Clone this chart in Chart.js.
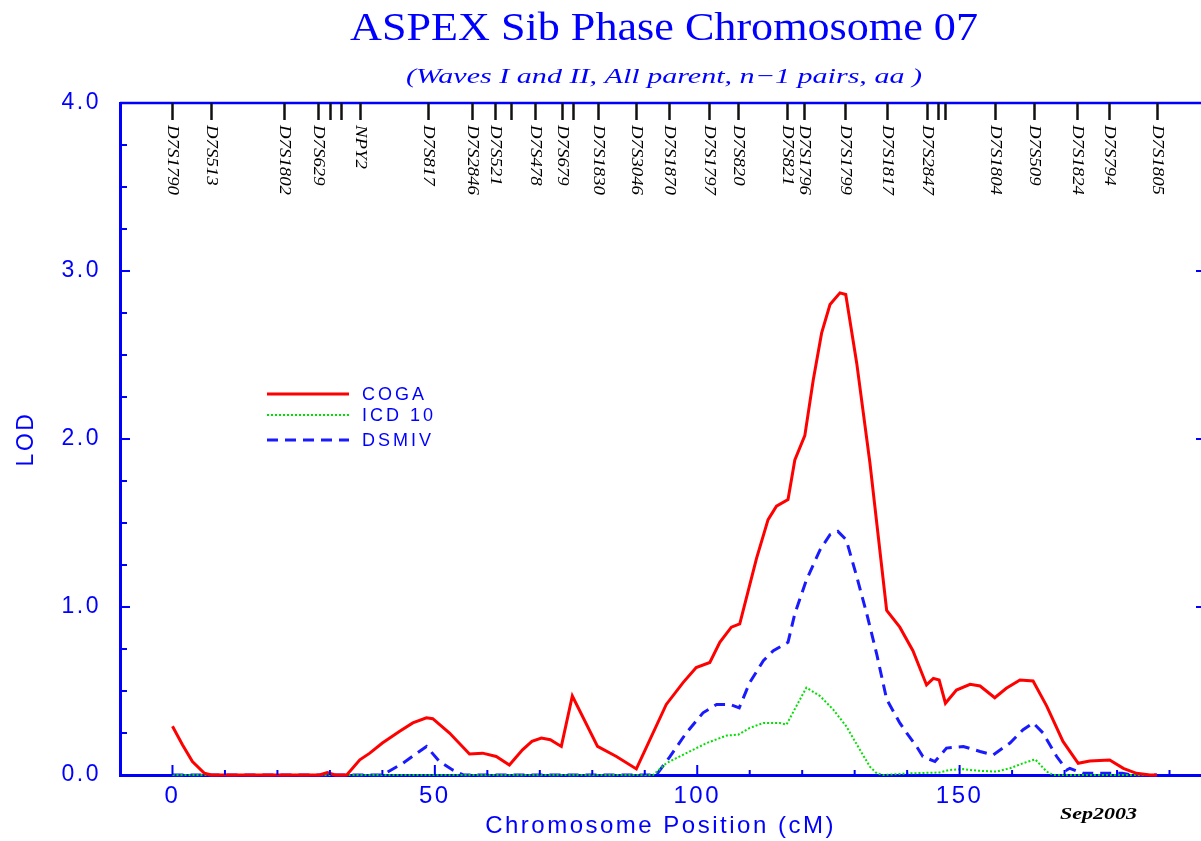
<!DOCTYPE html>
<html>
<head>
<meta charset="utf-8">
<title>ASPEX Sib Phase Chromosome 07</title>
<script src="https://cdn.jsdelivr.net/npm/chart.js@4/dist/chart.umd.min.js"></script>
<style>
  html, body { margin: 0; padding: 0; background: #ffffff; }
  canvas { display: block; }
</style>
</head>
<body>
<canvas id="lodChart" width="1201" height="841"></canvas>
<script>
// ---- Linkage scan values (position in cM, LOD score) ----
const cogaPos = [0, 1.9, 3.8, 6.1, 7.4, 28, 29.5, 31, 33.2, 35.7,
  37.6, 40, 43.3, 45.8, 48.4, 49.6, 52.8, 56.6, 59.1, 61.7,
  64.2, 66.7, 68.5, 70.3, 72, 74.1, 76.2, 81, 84.6, 88.4,
  94.1, 97.3, 99.8, 102.4, 104.3, 106.5, 108.1, 111.3, 113.5, 115.1,
  117.3, 118.6, 120.5, 122.1, 123.7, 125.3, 127.2, 128.3, 130.4, 132.9,
  136.1, 138.6, 141.1, 143.7, 145, 146.1, 147.3, 149.4, 152, 153.9,
  156.7, 158.9, 161.5, 164, 166.6, 169.7, 172.6, 174.8, 178.6, 181.2,
  183.7, 186.3, 187.6];
const cogaLod = [0.29, 0.18, 0.08, 0.01, 0, 0, 0.015, 0, 0, 0.09,
  0.13, 0.19, 0.26, 0.31, 0.34, 0.335, 0.25, 0.125, 0.13, 0.11,
  0.06, 0.15, 0.20, 0.22, 0.21, 0.17, 0.47, 0.17, 0.11, 0.036,
  0.42, 0.55, 0.64, 0.67, 0.79, 0.88, 0.90, 1.29, 1.52, 1.60,
  1.64, 1.875, 2.02, 2.35, 2.63, 2.80, 2.87, 2.86, 2.45, 1.86,
  0.98, 0.88, 0.74, 0.536, 0.575, 0.565, 0.427, 0.506, 0.54, 0.53,
  0.46, 0.516, 0.565, 0.56, 0.41, 0.2, 0.07, 0.083, 0.089, 0.04,
  0.01, 0, 0];

const icd10Pos = [0, 91.6, 94.1, 97.9, 101.8, 105.6, 107.8, 110, 112.6, 115.7,
  117, 120.8, 123.4, 125.9, 128.4, 131, 132.9, 134.2, 135.5, 140.5,
  146.2, 148.1, 150.7, 153.2, 157, 159.6, 162.1, 164.4, 166.6, 167.8,
  187.6];
const icd10Lod = [0, 0, 0.07, 0.13, 0.19, 0.235, 0.24, 0.28, 0.31, 0.31,
  0.30, 0.52, 0.47, 0.39, 0.29, 0.15, 0.05, 0.01, 0, 0.01,
  0.015, 0.03, 0.035, 0.026, 0.02, 0.04, 0.07, 0.093, 0.02, 0,
  0];

const dsmivPos = [0, 40, 43.9, 48.4, 50.9, 53.4, 55.5,
  92.2, 94.8, 97.9, 101.1, 103.7, 106.2, 108.0, 110.0, 112.6, 114.5,
  117.3, 118.6, 120.8, 123.4, 125.3, 126.8, 128.4, 130.4, 132.3, 134.2,
  136.1, 138.6, 139.9, 141.8, 143.0, 145.3, 147.5, 150.7, 153.9, 156.4,
  159.6, 162.1, 164.0, 165.9, 168.5, 170.4, 171.0, 173.5, 181.0, 183.0,
  187.6];
const dsmivLod = [0, 0, 0.07, 0.17, 0.08, 0.03, 0,
  0, 0.11, 0.25, 0.37, 0.42, 0.42, 0.40, 0.55, 0.68, 0.74,
  0.79, 0.96, 1.16, 1.34, 1.43, 1.45, 1.40, 1.18, 0.96, 0.72,
  0.45, 0.31, 0.25, 0.17, 0.11, 0.08, 0.16, 0.17, 0.14, 0.12,
  0.19, 0.27, 0.31, 0.25, 0.11, 0.03, 0.04, 0.01, 0.01, 0,
  0];

// ---- Genetic markers along the chromosome ----
const markerNames = ['D7S1790', 'D7S513', 'D7S1802', 'D7S629', '', '', 'NPY2', 'D7S817',
  'D7S2846', 'D7S521', '', 'D7S478', 'D7S679', '', 'D7S1830', 'D7S3046', 'D7S1870',
  'D7S1797', 'D7S820', 'D7S821', 'D7S1796', 'D7S1799', 'D7S1817', 'D7S2847', '', '',
  'D7S1804', 'D7S509', 'D7S1824', 'D7S794', 'D7S1805'];
const markerPos = [0, 7.4, 21.2, 27.8, 30.1, 32.2, 35.8, 48.6,
  57.0, 61.4, 64.6, 69.0, 74.2, 76.3, 81.0, 88.3, 94.6,
  102.2, 107.7, 117.1, 120.3, 128.1, 136.1, 143.8, 145.9, 147.2,
  156.7, 164.2, 172.4, 178.5, 187.6];

// ---- Axis ticks and text ----
const xTickValues = [0, 50, 100, 150];
const yTickValues = [0, 1, 2, 3, 4];
const seriesNames = ['COGA', 'ICD10', 'DSMIV'];
const legendLabels = ['COGA', 'ICD 10', 'DSMIV'];
const chartTitle = 'ASPEX Sib Phase Chromosome 07';
const chartSubtitle = '(Waves I and II, All parent, n\u22121 pairs, aa )';
const dateStamp = 'Sep2003';

const BLUE = '#0000ff';
const SANS = '"Liberation Sans", Arial, sans-serif';
const SERIF = '"Liberation Serif", "Times New Roman", serif';

function toPoints(xs, ys) {
  return xs.map((x, i) => ({ x: x, y: ys[i] }));
}

// Serif text stretched horizontally to a given width
function drawStretched(ctx, text, font, cx, baseline, width, color) {
  ctx.save();
  ctx.font = font;
  ctx.letterSpacing = '0px';
  const w = ctx.measureText(text).width;
  ctx.translate(cx, baseline);
  ctx.scale(width / w, 1);
  ctx.fillStyle = color;
  ctx.textAlign = 'center';
  ctx.textBaseline = 'alphabetic';
  ctx.fillText(text, 0, 0);
  ctx.restore();
}

const decorPlugin = {
  id: 'decor',
  beforeDraw(chart) {
    chart.ctx.letterSpacing = '2.5px';
  },
  beforeDatasetsDraw(chart) {
    chart.ctx.letterSpacing = '0px';
  },
  afterDraw(chart) {
    const ctx = chart.ctx;
    const xs = chart.scales.x;
    const ys = chart.scales.y;
    const area = chart.chartArea;

    ctx.save();
    ctx.letterSpacing = '0px';

    // top frame line
    ctx.strokeStyle = BLUE;
    ctx.lineWidth = 2.5;
    ctx.beginPath();
    ctx.moveTo(area.left, area.top);
    ctx.lineTo(area.right, area.top);
    ctx.stroke();

    // inward tick marks on the left axis
    ctx.lineWidth = 2;
    for (let v = 0; v <= 4.0001; v += 0.25) {
      const y = ys.getPixelForValue(v);
      const major = Math.abs(v - Math.round(v)) < 1e-6;
      ctx.beginPath();
      ctx.moveTo(area.left, y);
      ctx.lineTo(area.left + (major ? 10 : 7), y);
      ctx.stroke();
    }
    // right-side ticks
    yTickValues.forEach(v => {
      const y = ys.getPixelForValue(v);
      ctx.beginPath();
      ctx.moveTo(area.right, y);
      ctx.lineTo(area.right - 5, y);
      ctx.stroke();
    });
    // upward tick marks on the bottom axis
    for (let v = 0; v <= 190; v += 10) {
      const x = xs.getPixelForValue(v);
      const major = v % 50 === 0;
      ctx.beginPath();
      ctx.moveTo(x, area.bottom);
      ctx.lineTo(x, area.bottom - (major ? 10 : 5));
      ctx.stroke();
    }

    // marker ticks and names hanging from the top
    ctx.strokeStyle = '#111111';
    ctx.lineWidth = 2.5;
    ctx.fillStyle = '#000000';
    ctx.font = 'italic 16.5px ' + SERIF;
    markerPos.forEach((pos, i) => {
      const x = Math.round(xs.getPixelForValue(pos)) + 0.5;
      ctx.beginPath();
      ctx.moveTo(x, area.top);
      ctx.lineTo(x, area.top + 17);
      ctx.stroke();
      const name = markerNames[i];
      if (name) {
        ctx.save();
        ctx.translate(x, area.top + 22);
        ctx.rotate(Math.PI / 2);
        ctx.scale(1.14, 1);
        ctx.textAlign = 'left';
        ctx.textBaseline = 'middle';
        ctx.fillText(name, 0, 0);
        ctx.restore();
      }
    });

    // legend inside the plot
    const legendY = [394, 415, 440];
    chart.data.datasets.forEach((ds, i) => {
      const y = legendY[i];
      ctx.save();
      ctx.strokeStyle = ds.borderColor;
      ctx.lineWidth = ds.borderWidth;
      ctx.setLineDash(ds.borderDash || []);
      ctx.beginPath();
      ctx.moveTo(267, y);
      ctx.lineTo(349, y);
      ctx.stroke();
      ctx.restore();
      ctx.save();
      ctx.font = '18px ' + SANS;
      ctx.letterSpacing = '3px';
      ctx.fillStyle = BLUE;
      ctx.textAlign = 'left';
      ctx.textBaseline = 'middle';
      ctx.fillText(legendLabels[i], 362, y + 1);
      ctx.restore();
    });

    // titles
    drawStretched(ctx, chartTitle, '40px ' + SERIF, 664, 40, 628, BLUE);
    drawStretched(ctx, chartSubtitle, 'italic 22px ' + SERIF, 664, 83, 516, BLUE);
    // date stamp
    ctx.save();
    ctx.font = 'bold italic 16px ' + SERIF;
    const dw = ctx.measureText(dateStamp).width;
    ctx.translate(1060, 819);
    ctx.scale(77 / dw, 1);
    ctx.fillStyle = '#000000';
    ctx.textAlign = 'left';
    ctx.fillText(dateStamp, 0, 0);
    ctx.restore();

    ctx.restore();
  }
};

new Chart(document.getElementById('lodChart'), {
  type: 'line',
  data: {
    datasets: [
      {
        label: seriesNames[0],
        data: toPoints(cogaPos, cogaLod),
        borderColor: '#ff0000',
        borderWidth: 3,
        pointRadius: 0,
        tension: 0,
        clip: false
      },
      {
        label: seriesNames[1],
        data: toPoints(icd10Pos, icd10Lod),
        borderColor: '#00e000',
        borderWidth: 2,
        borderDash: [2, 2],
        pointRadius: 0,
        tension: 0,
        clip: false
      },
      {
        label: seriesNames[2],
        data: toPoints(dsmivPos, dsmivLod),
        borderColor: '#1a1aff',
        borderWidth: 3,
        borderDash: [11, 7],
        pointRadius: 0,
        tension: 0,
        clip: false
      }
    ]
  },
  options: {
    responsive: false,
    animation: false,
    devicePixelRatio: 1,
    layout: { padding: { top: 103, right: 0, bottom: 0, left: 0 } },
    plugins: {
      legend: { display: false },
      title: { display: false },
      tooltip: { enabled: false }
    },
    scales: {
      x: {
        type: 'linear',
        min: -10,
        max: 196,
        afterBuildTicks(scale) {
          scale.ticks = xTickValues.map(v => ({ value: v }));
        },
        afterFit(scale) { scale.height = 66; },
        grid: { display: false, drawTicks: false },
        border: { display: true, color: BLUE, width: 3 },
        ticks: {
          autoSkip: false,
          maxRotation: 0,
          padding: 7,
          color: BLUE,
          font: { family: SANS, size: 24 }
        },
        title: {
          display: true,
          text: 'Chromosome Position (cM)',
          color: BLUE,
          font: { family: SANS, size: 24 },
          padding: { top: 0, bottom: 0 }
        }
      },
      y: {
        type: 'linear',
        min: 0,
        max: 4,
        afterBuildTicks(scale) {
          scale.ticks = yTickValues.map(v => ({ value: v }));
        },
        afterFit(scale) { scale.width = 120; },
        grid: { display: false, drawTicks: false },
        border: { display: true, color: BLUE, width: 3 },
        ticks: {
          padding: 19,
          color: BLUE,
          font: { family: SANS, size: 23 },
          callback: v => Number(v).toFixed(1)
        },
        title: {
          display: true,
          text: 'LOD',
          color: BLUE,
          font: { family: SANS, size: 23 },
          padding: { top: 13, bottom: 0 }
        }
      }
    }
  },
  plugins: [decorPlugin]
});
</script>
</body>
</html>
